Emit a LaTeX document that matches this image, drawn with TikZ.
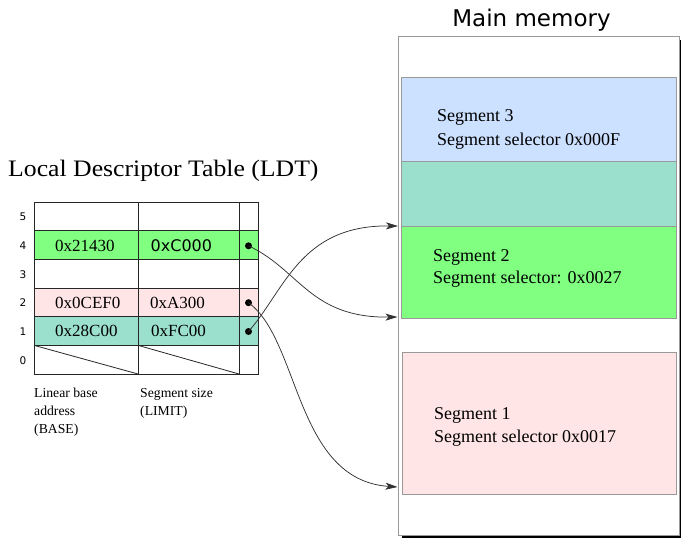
\documentclass[tikz,border=0pt]{standalone}
\usepackage{fontspec}
\setmainfont{Liberation Serif}
\newfontfamily\dejavu{DejaVu Sans}
\newfontfamily\ldtfont{Liberation Serif}[FakeStretch=1.09]
\usetikzlibrary{arrows.meta}
\definecolor{segblue}{HTML}{CCE0FF}
\definecolor{segteal}{HTML}{9BE0CC}
\definecolor{seggreen}{HTML}{80FF80}
\definecolor{segpink}{HTML}{FFE5E5}
\definecolor{boxgray}{HTML}{999999}
\begin{document}
\begin{tikzpicture}[x=1pt,y=-1pt,
  cell/.style={draw=black!85, line width=0.9pt, inner sep=0pt, outer sep=0pt, anchor=north west, minimum height=28.67pt},
  colA/.style={cell, minimum width=104pt},
  colB/.style={cell, minimum width=101pt},
  colC/.style={cell, minimum width=19pt},
  celltext/.style={anchor=west, inner sep=0pt, font=\fontsize{17}{20}\selectfont},
  rowlab/.style={inner sep=0pt, font=\dejavu\fontsize{10.5}{12}\selectfont},
  seg/.style={draw=boxgray, line width=0.8pt, inner sep=0pt, outer sep=0pt, anchor=north west},
  segtext/.style={anchor=base west, inner sep=0pt, font=\fontsize{18}{21}\selectfont},
  dot/.style={circle, fill=black, inner sep=0pt, minimum size=7pt},
  arr/.style={-{Stealth[length=12pt,width=7pt,inset=3pt]}, line width=0.75pt, black!80},
  caption/.style={anchor=north west, inner sep=0pt, align=left, font=\fontsize{13.7}{18}\selectfont}
]
\fill[white] (0,0) rectangle (681,539);
\useasboundingbox (0,0) rectangle (681,539);

% ---------- Main memory ----------
\node[anchor=base, inner sep=0pt, font=\dejavu\fontsize{23}{27}\selectfont] (memtitle) at (531.5,26.7) {Main memory};

\node[seg, fill=segblue, minimum width=275pt, minimum height=84pt] (seg3) at (401,77) {};
\node[seg, fill=segteal, minimum width=275pt, minimum height=65pt] (segmid) at (401,161) {};
\node[seg, fill=seggreen, minimum width=275pt, minimum height=92pt] (seg2) at (401,226) {};
\node[seg, fill=segpink, minimum width=274pt, minimum height=142pt] (seg1) at (402,352) {};

\node[draw=boxgray, line width=0.9pt, inner sep=0pt, outer sep=0pt, anchor=north west, minimum width=281pt, minimum height=499pt] (mem) at (398,36) {};
\draw[line width=2pt, black] ([xshift=4pt,yshift=-1.5pt]mem.south west) -- ([xshift=1.5pt,yshift=-1.5pt]mem.south east) -- ([xshift=1.5pt,yshift=-4pt]mem.north east);

\node[segtext] (s3a) at (437,121.6) {Segment 3};
\node[segtext] (s3b) at (437,145) {Segment selector 0x000F};
\node[segtext] (s2a) at (433,261) {Segment 2};
\node[segtext] (s2b) at (433,283) {Segment selector: 0x0027};
\node[segtext] (s1a) at (434,419) {Segment 1};
\node[segtext] (s1b) at (434,442) {Segment selector 0x0017};

% ---------- LDT ----------
\node[anchor=base west, inner sep=0pt, font=\ldtfont\fontsize{23.6}{28}\selectfont] (ldttitle) at (8,176.7) {Local Descriptor Table (LDT)};

% row 5
\node[colA] (a5) at (34,202) {};
\node[colB] (b5) at (138,202) {};
\node[colC] (c5) at (239,202) {};
% row 4
\node[colA, fill=seggreen] (a4) at (34,230.67) {};
\node[colB, fill=seggreen] (b4) at (138,230.67) {};
\node[colC, fill=seggreen] (c4) at (239,230.67) {};
% row 3
\node[colA] (a3) at (34,259.33) {};
\node[colB] (b3) at (138,259.33) {};
\node[colC] (c3) at (239,259.33) {};
% row 2
\node[colA, fill=segpink] (a2) at (34,288) {};
\node[colB, fill=segpink] (b2) at (138,288) {};
\node[colC, fill=segpink] (c2) at (239,288) {};
% row 1
\node[colA, fill=segteal] (a1) at (34,316.67) {};
\node[colB, fill=segteal] (b1) at (138,316.67) {};
\node[colC, fill=segteal] (c1) at (239,316.67) {};
% row 0
\node[colA] (a0) at (34,345.33) {};
\node[colB] (b0) at (138,345.33) {};
\node[colC] (c0) at (239,345.33) {};
\draw[line width=0.8pt, black!85] (a0.north west) -- (a0.south east);
\draw[line width=0.8pt, black!85] (b0.north west) -- (b0.south east);

% cell texts
\node[celltext] (t4a) at (55,246) {0x21430};
\node[celltext, font=\dejavu\fontsize{16}{19}\selectfont] (t4b) at (150.5,246) {0xC000};
\node[celltext] (t2a) at (55,302.7) {0x0CEF0};
\node[celltext] (t2b) at (150,302.7) {0xA300};
\node[celltext] (t1a) at (55,331) {0x28C00};
\node[celltext] (t1b) at (151,331) {0xFC00};

% row labels
\node[rowlab] (r5) at (23,216.8) {5};
\node[rowlab] (r4) at (23,245.5) {4};
\node[rowlab] (r3) at (23,274.2) {3};
\node[rowlab] (r2) at (23,302.8) {2};
\node[rowlab] (r1) at (23,331.5) {1};
\node[rowlab] (r0) at (23,360.2) {0};

% captions
\node[caption] (capA) at (34,388) {Linear base\\address\\(BASE)};
\node[caption] (capB) at (140,388) {Segment size\\(LIMIT)};

% dots
\node[dot] (d4) at (248.5,245.8) {};
\node[dot] (d2) at (248.5,302.7) {};
\node[dot] (d1) at (248.5,331.5) {};

% arrow targets on the memory box
\coordinate (m2top) at (mem.west |- seg2.north);
\coordinate (m2bot) at (397.5,317);
\coordinate (m1low) at (397.5,487);

\draw[arr] (d4.center) .. controls (300,270) and (310,318) .. (m2bot);
\draw[arr] (d1.center) .. controls (285,290) and (300,225) .. (m2top);
\draw[arr] (d2.center) .. controls (300,340) and (295,480) .. (m1low);
\end{tikzpicture}
\end{document}
